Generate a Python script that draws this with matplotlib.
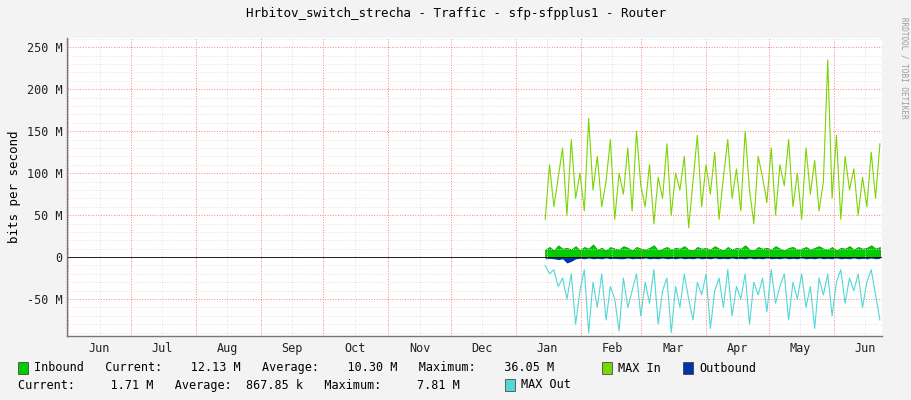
import datetime as dt
import numpy as np
import matplotlib
matplotlib.use("Agg")
import matplotlib.pyplot as plt
import matplotlib.dates as mdates
from matplotlib.ticker import FuncFormatter, MultipleLocator

# values in Mbit/s, evenly spaced samples from 2024-01-15 to 2024-06-23
max_in = [45, 110, 60, 95, 130, 50, 140, 70, 100, 55, 165, 80, 120, 60, 90, 140, 45, 100, 75, 130,
          55, 150, 85, 60, 110, 40, 95, 70, 135, 50, 100, 80, 120, 35, 90, 145, 60, 110, 75, 125,
          45, 95, 140, 70, 105, 55, 150, 80, 40, 120, 95, 65, 130, 50, 110, 85, 140, 60, 100, 45,
          130, 75, 115, 55, 90, 235, 70, 145, 45, 120, 80, 105, 50, 95, 60, 125, 70, 135]
max_out = [-10, -20, -15, -35, -25, -50, -20, -80, -40, -15, -90, -30, -60, -20, -75, -35, -50, -88, -25, -60,
           -40, -20, -70, -30, -55, -15, -80, -40, -25, -90, -35, -60, -20, -50, -75, -30, -45, -20, -85, -40,
           -25, -60, -15, -70, -35, -50, -20, -80, -30, -45, -25, -65, -15, -55, -35, -20, -75, -30, -50, -20,
           -60, -35, -85, -25, -45, -20, -70, -30, -15, -55, -25, -40, -20, -60, -30, -15, -45, -75]
inbound = [9, 12, 8, 14, 10, 11, 9, 13, 8, 12, 10, 15, 9, 11, 8, 12, 10, 9, 13, 11,
           8, 12, 10, 9, 11, 14, 8, 10, 12, 9, 11, 10, 13, 9, 8, 12, 10, 11, 9, 13,
           10, 8, 12, 9, 11, 10, 14, 9, 8, 12, 10, 11, 9, 13, 10, 8, 11, 12, 9, 10,
           12, 9, 11, 13, 10, 9, 12, 8, 11, 10, 13, 9, 12, 10, 11, 14, 10, 12]
outbound = [-2, -1.5, -2, -3, -2, -7, -5, -2, -1.5, -2, -1, -2, -1.5, -2, -1, -2, -1.5, -2, -2, -1,
            -2, -1.5, -2, -1, -2, -1.5, -2, -1, -2, -1.5, -2, -1, -2, -1.5, -2, -1, -2, -1.5, -2, -1,
            -2, -1.5, -2, -1, -2, -1.5, -2, -1, -2, -1.5, -2, -1, -2, -1.5, -2, -1, -2, -1.5, -2, -1,
            -2, -1.5, -2, -1, -2, -1.5, -2, -1, -2, -1.5, -2, -1, -2, -1.5, -2, -1, -2, -1.5]

start = dt.datetime(2024, 1, 15)
span = (dt.datetime(2024, 6, 23) - start).days
dates = [start + dt.timedelta(days=float(d)) for d in np.linspace(0, span, len(max_in))]

mono = "DejaVu Sans Mono"
plt.rcParams["font.family"] = mono
plt.rcParams["font.size"] = 8

fig = plt.figure(figsize=(9.11, 4.0), dpi=100, facecolor="#F3F3F3")
ax = fig.add_axes([67 / 911, 64 / 400, 815 / 911, 298 / 400], facecolor="white")

ax.plot(dates, max_in, color="#7CD500", lw=0.8)
ax.plot(dates, max_out, color="#55D6D6", lw=0.8)
ax.fill_between(dates, 0, inbound, color="#00CC00", lw=0.6, edgecolor="#00A000")
ax.fill_between(dates, 0, outbound, color="#0033AA", lw=0)
ax.axhline(0, color="black", lw=0.6)

ax.set_xlim(dt.datetime(2023, 5, 31, 10), dt.datetime(2024, 6, 24))
ax.set_ylim(-94, 261)
ax.yaxis.set_major_locator(MultipleLocator(50))
ax.yaxis.set_minor_locator(MultipleLocator(10))
ax.yaxis.set_major_formatter(FuncFormatter(lambda v, p: "0" if v == 0 else f"{int(v)} M"))
ax.xaxis.set_major_locator(mdates.MonthLocator())
ax.xaxis.set_minor_locator(mdates.MonthLocator(bymonthday=16))
ax.xaxis.set_major_formatter(plt.NullFormatter())
ax.xaxis.set_minor_formatter(mdates.DateFormatter("%b"))
ax.tick_params(which="both", length=0, labelsize=8.5, colors="#222222")
ax.tick_params(axis="x", which="minor", pad=4)

ax.grid(which="minor", color="#DDDDDD", ls=":", lw=0.6)
ax.grid(which="major", axis="x", color="#FF8080", ls=":", lw=0.7)
ax.grid(which="major", axis="y", color="#FF8080", ls=":", lw=0.7)
for s in ax.spines.values():
    s.set_visible(False)
for side in ("left", "bottom"):
    ax.spines[side].set_visible(True)
    ax.spines[side].set_color("#777777")
    ax.spines[side].set_linewidth(1.0)
    ax.spines[side].set_zorder(10)

ax.set_ylabel("bits per second", fontsize=9)
fig.text(0.5, 0.965, "Hrbitov_switch_strecha - Traffic - sfp-sfpplus1 - Router",
         ha="center", va="center", fontsize=9)
fig.text(0.992, 0.83, "RRDTOOL / TOBI OETIKER", rotation=270, ha="center", va="center",
         fontsize=5.5, color="#999999")

def box(x, y, c):
    fig.patches.append(plt.Rectangle((x / 911, 1 - y / 400 - 0.014), 10 / 911, 0.028,
                                     transform=fig.transFigure, facecolor=c, edgecolor="#333333", lw=0.5))

box(18, 368, "#00CC00")
fig.text(34 / 911, 1 - 368 / 400, "Inbound   Current:    12.13 M   Average:    10.30 M   Maximum:    36.05 M",
         va="center", fontsize=8.5)
box(602, 368, "#7CD500")
fig.text(618 / 911, 1 - 368 / 400, "MAX In", va="center", fontsize=8.5)
box(683, 368, "#0033AA")
fig.text(699 / 911, 1 - 368 / 400, "Outbound", va="center", fontsize=8.5)
fig.text(18 / 911, 1 - 385 / 400, "Current:     1.71 M   Average:  867.85 k   Maximum:     7.81 M",
         va="center", fontsize=8.5)
box(505, 385, "#55D6D6")
fig.text(521 / 911, 1 - 385 / 400, "MAX Out", va="center", fontsize=8.5)

fig.savefig("out.png", dpi=100, facecolor=fig.get_facecolor())
